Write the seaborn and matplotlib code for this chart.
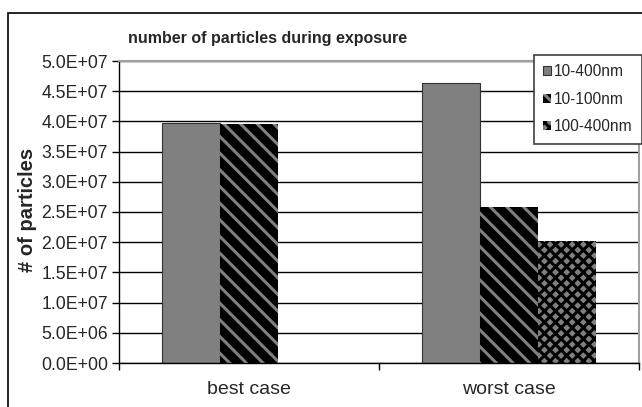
import matplotlib
matplotlib.use('Agg')
import matplotlib.pyplot as plt
import matplotlib.patches as mpatches
import matplotlib.ticker as mticker
import pandas as pd
import seaborn as sns

# data
cases = ['best case', 'worst case']
sizes = ['10-400nm', '10-100nm', '100-400nm']
best_case = [3.97e7, 3.95e7, None]
worst_case = [4.64e7, 2.59e7, 2.02e7]

rows = []
for case, vals in zip(cases, [best_case, worst_case]):
  for s, v in zip(sizes, vals):
    if v is not None:
      rows.append({'case': case, 'size': s, 'particles': v})
db = pd.DataFrame(rows)

sns.set_style('white')
plt.rcParams['font.family'] = ['Liberation Sans', 'DejaVu Sans']
plt.rcParams['hatch.linewidth'] = 2.2

# face, hatch/edge colour, hatch pattern
styles = {'10-400nm':  ('#808080', '#333333', ''),
          '10-100nm':  ('#000000', '#808080', '\\\\'),
          '100-400nm': ('#808080', '#000000', 'xxx')}

fig = plt.figure(figsize=(6.42, 4.07), dpi=100)
ax = fig.add_axes([119/642, 1 - 363/407, 520/642, 302/407])

sns.barplot(data=db, x='case', y='particles', hue='size', order=cases,
            hue_order=sizes, width=0.67, saturation=1., ax=ax, legend=False,
            palette=[styles[s][0] for s in sizes])

for s, cont in zip(sizes, ax.containers):
  face, hcol, hatch = styles[s]
  for bar in cont:
    bar.set_facecolor(face)
    bar.set_edgecolor(hcol)
    if hatch:
      bar.set_hatch(hatch)
      bar.set_linewidth(0)
    else:
      bar.set_linewidth(0.8)

ax.set_xlim(-0.5, 1.5)
ax.set_ylim(0, 5e7)
ax.yaxis.set_major_locator(mticker.MultipleLocator(5e6))
ax.yaxis.set_major_formatter(mticker.FuncFormatter(lambda v, p: '{:.1E}'.format(v)))
ax.yaxis.grid(True, color='black', linewidth=1)
ax.set_axisbelow(True)

ax.set_xticks([0, 1])
ax.set_xticklabels(cases, fontsize=14)
ax.set_xticks([-0.5, 0.5, 1.5], minor=True)
ax.tick_params(axis='x', which='major', length=0, pad=13)
ax.tick_params(axis='x', which='minor', length=5, width=1, color='black', direction='out')
ax.tick_params(axis='y', length=5, width=1, color='black', direction='out', labelsize=12.7, pad=3)
ax.tick_params(left=True, bottom=True, which='both')

ax.set_xlabel('')
ax.set_ylabel('# of particles', fontsize=14.5, fontweight='bold')
ax.yaxis.set_label_coords((37 - 119) / 520, (363 - 210) / 302)

for side in ['left', 'bottom']:
  ax.spines[side].set_color('black')
  ax.spines[side].set_linewidth(1)
for side in ['top', 'right']:
  ax.spines[side].set_color('#a0a0a0')
  ax.spines[side].set_linewidth(1.5)

fig.text(268/642, 1 - 39/407, 'number of particles during exposure',
         ha='center', va='center', fontsize=11.5, fontweight='bold')

handles = [mpatches.Patch(facecolor=styles[s][0], edgecolor=styles[s][1],
                          hatch=styles[s][2], linewidth=0.8 if not styles[s][2] else 0,
                          label=s)
           for s in sizes]
leg = fig.legend(handles=handles, loc='upper left',
                 bbox_to_anchor=(534/642, 1 - 55/407), borderaxespad=0,
                 fontsize=11.2, frameon=True, fancybox=False, framealpha=1,
                 handlelength=0.5, handleheight=0.5, handletextpad=0.2,
                 labelspacing=0.8, borderpad=0.6)
leg.get_frame().set_edgecolor('#404040')
leg.get_frame().set_linewidth(1.2)

# chart area border
top = 1 - 13/407
fig.patches.append(mpatches.Rectangle((8/642, -0.2), 1.5, top + 0.2,
                                      transform=fig.transFigure, fill=False,
                                      edgecolor='black', linewidth=1.2, zorder=0))

fig.savefig('out.png', dpi=100)
